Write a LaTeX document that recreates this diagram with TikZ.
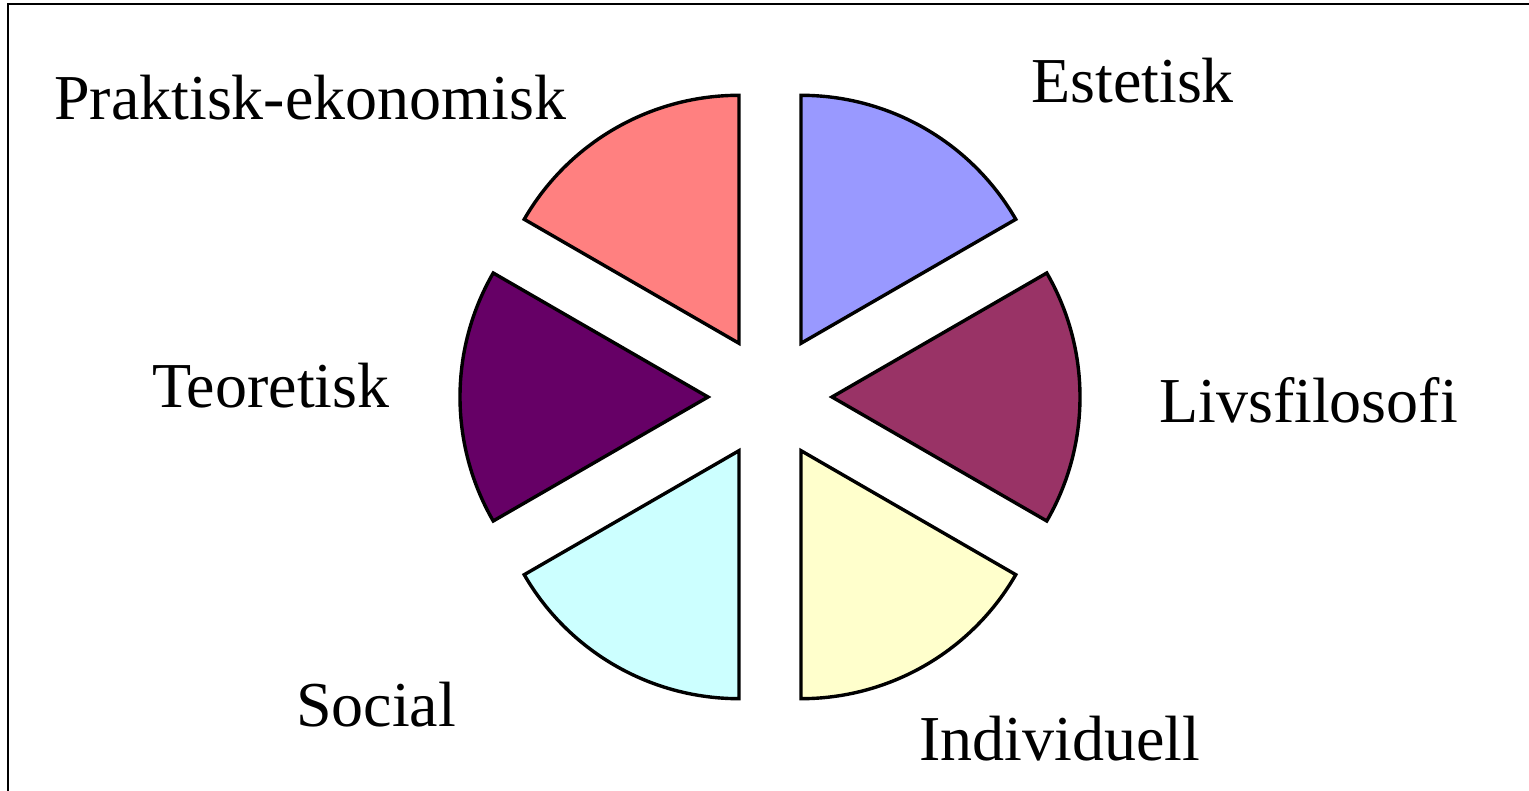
\documentclass[tikz,border=0pt]{standalone}
\usepackage{fontspec}
\setmainfont{Liberation Serif}
\usetikzlibrary{calc}
\definecolor{cred}{HTML}{FF8080}
\definecolor{cblue}{HTML}{9999FF}
\definecolor{cplum}{HTML}{993366}
\definecolor{cyell}{HTML}{FFFFCC}
\definecolor{ccyan}{HTML}{CCFFFF}
\definecolor{cpurp}{HTML}{660066}
\begin{document}
\begin{tikzpicture}[x=1pt,y=1pt,
  slice/.style={draw=black,line width=3.4pt,line join=miter},
  lbl/.style={anchor=base west,inner sep=0pt,font=\fontsize{64}{70}\selectfont}]
\useasboundingbox (0,0) rectangle (1529,790);
\clip (0,0) rectangle (1529,790);
\fill[white] (0,0) rectangle (1529,790);
\draw[line width=1.5pt] (8,-20) rectangle (1560,786);
\coordinate (C) at (770,393);
\foreach \phi/\col in {60/cblue,120/cred,180/cpurp,240/ccyan,300/cyell,0/cplum}{
  \filldraw[slice,fill=\col] ($(C)+(\phi:62)$) -- +(\phi+30:248) arc[start angle=\phi+30,end angle=\phi-30,radius=248] -- cycle;
}
\node[lbl] (prak) at (54,670) {Praktisk-ekonomisk};
\node[lbl] (este) at (1031,687) {Estetisk};
\node[lbl] (teor) at (152,382) {Teoretisk};
\node[lbl] (livs) at (1159,367) {Livsfilosofi};
\node[lbl] (soci) at (296,63) {Social};
\node[lbl] (indi) at (919,30) {Individuell};
\end{tikzpicture}
\end{document}
